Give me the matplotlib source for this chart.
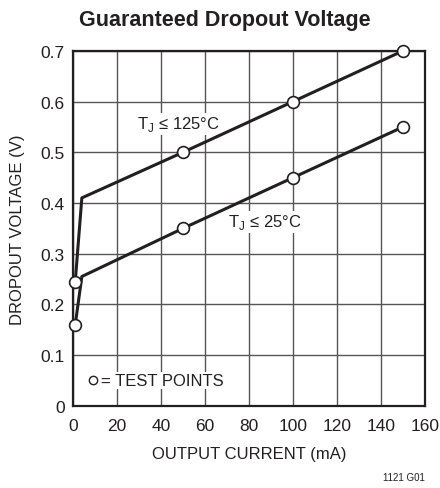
import matplotlib
matplotlib.use("Agg")
import matplotlib.pyplot as plt

# === Data ===
current_125 = [1, 4, 50, 100, 150]
voltage_125 = [0.245, 0.41, 0.50, 0.60, 0.70]
current_25 = [1, 4, 50, 100, 150]
voltage_25 = [0.16, 0.255, 0.35, 0.45, 0.55]
# test points (circles) are every point except the corner at 4 mA
test_idx = [0, 2, 3, 4]

x_ticks = [0, 20, 40, 60, 80, 100, 120, 140, 160]
y_ticks = [0, 0.1, 0.2, 0.3, 0.4, 0.5, 0.6, 0.7]
y_labels = ["0", "0.1", "0.2", "0.3", "0.4", "0.5", "0.6", "0.7"]

plt.rcParams['font.family'] = ['Liberation Sans', 'DejaVu Sans']
ink = "#231f20"

fig = plt.figure(figsize=(4.4, 4.89), dpi=100)
ax = fig.add_axes([0.166, 0.168, 0.800, 0.726])

for xs, ys in [(current_125, voltage_125), (current_25, voltage_25)]:
    ax.plot(xs, ys, color=ink, lw=2.2, zorder=3)
    ax.plot([xs[i] for i in test_idx], [ys[i] for i in test_idx], 'o',
            ms=8.5, mfc='white', mec=ink, mew=1.2, zorder=4, clip_on=False)

ax.set_xlim(0, 160)
ax.set_ylim(0, 0.7)
ax.set_xticks(x_ticks)
ax.set_yticks(y_ticks)
ax.set_yticklabels(y_labels)
ax.tick_params(length=0, labelsize=12.5, colors=ink)
ax.tick_params(axis='x', pad=9)
ax.tick_params(axis='y', pad=6)
ax.grid(True, color="#555555", lw=1.0)
ax.set_axisbelow(True)
for s in ax.spines.values():
    s.set_color(ink)
    s.set_linewidth(1.6)

ax.set_xlabel("OUTPUT CURRENT (mA)", fontsize=12, color=ink, labelpad=9)
ax.set_ylabel("DROPOUT VOLTAGE (V)", fontsize=12, color=ink, labelpad=11)
fig.text(0.51, 0.958, "Guaranteed Dropout Voltage", ha='center', va='center',
         fontsize=15.5, fontweight='bold', color=ink)

box = dict(facecolor='white', edgecolor='none', pad=1)
ax.text(48, 0.556, "T$_\\mathregular{J}$ ≤ 125°C", ha='center', va='center',
        fontsize=12, color=ink, bbox=box, zorder=2)
ax.text(87, 0.363, "T$_\\mathregular{J}$ ≤ 25°C", ha='center', va='center',
        fontsize=12, color=ink, bbox=box, zorder=2)
ax.plot([9], [0.05], 'o', ms=6, mfc='white', mec=ink, mew=1.0, zorder=4)
ax.text(12.5, 0.05, "= TEST POINTS", ha='left', va='center', fontsize=12,
        color=ink, bbox=box, zorder=2)

fig.text(0.965, 0.022, "1121 G01", ha='right', va='center', fontsize=7, color=ink)

fig.savefig("out.png", dpi=100)
